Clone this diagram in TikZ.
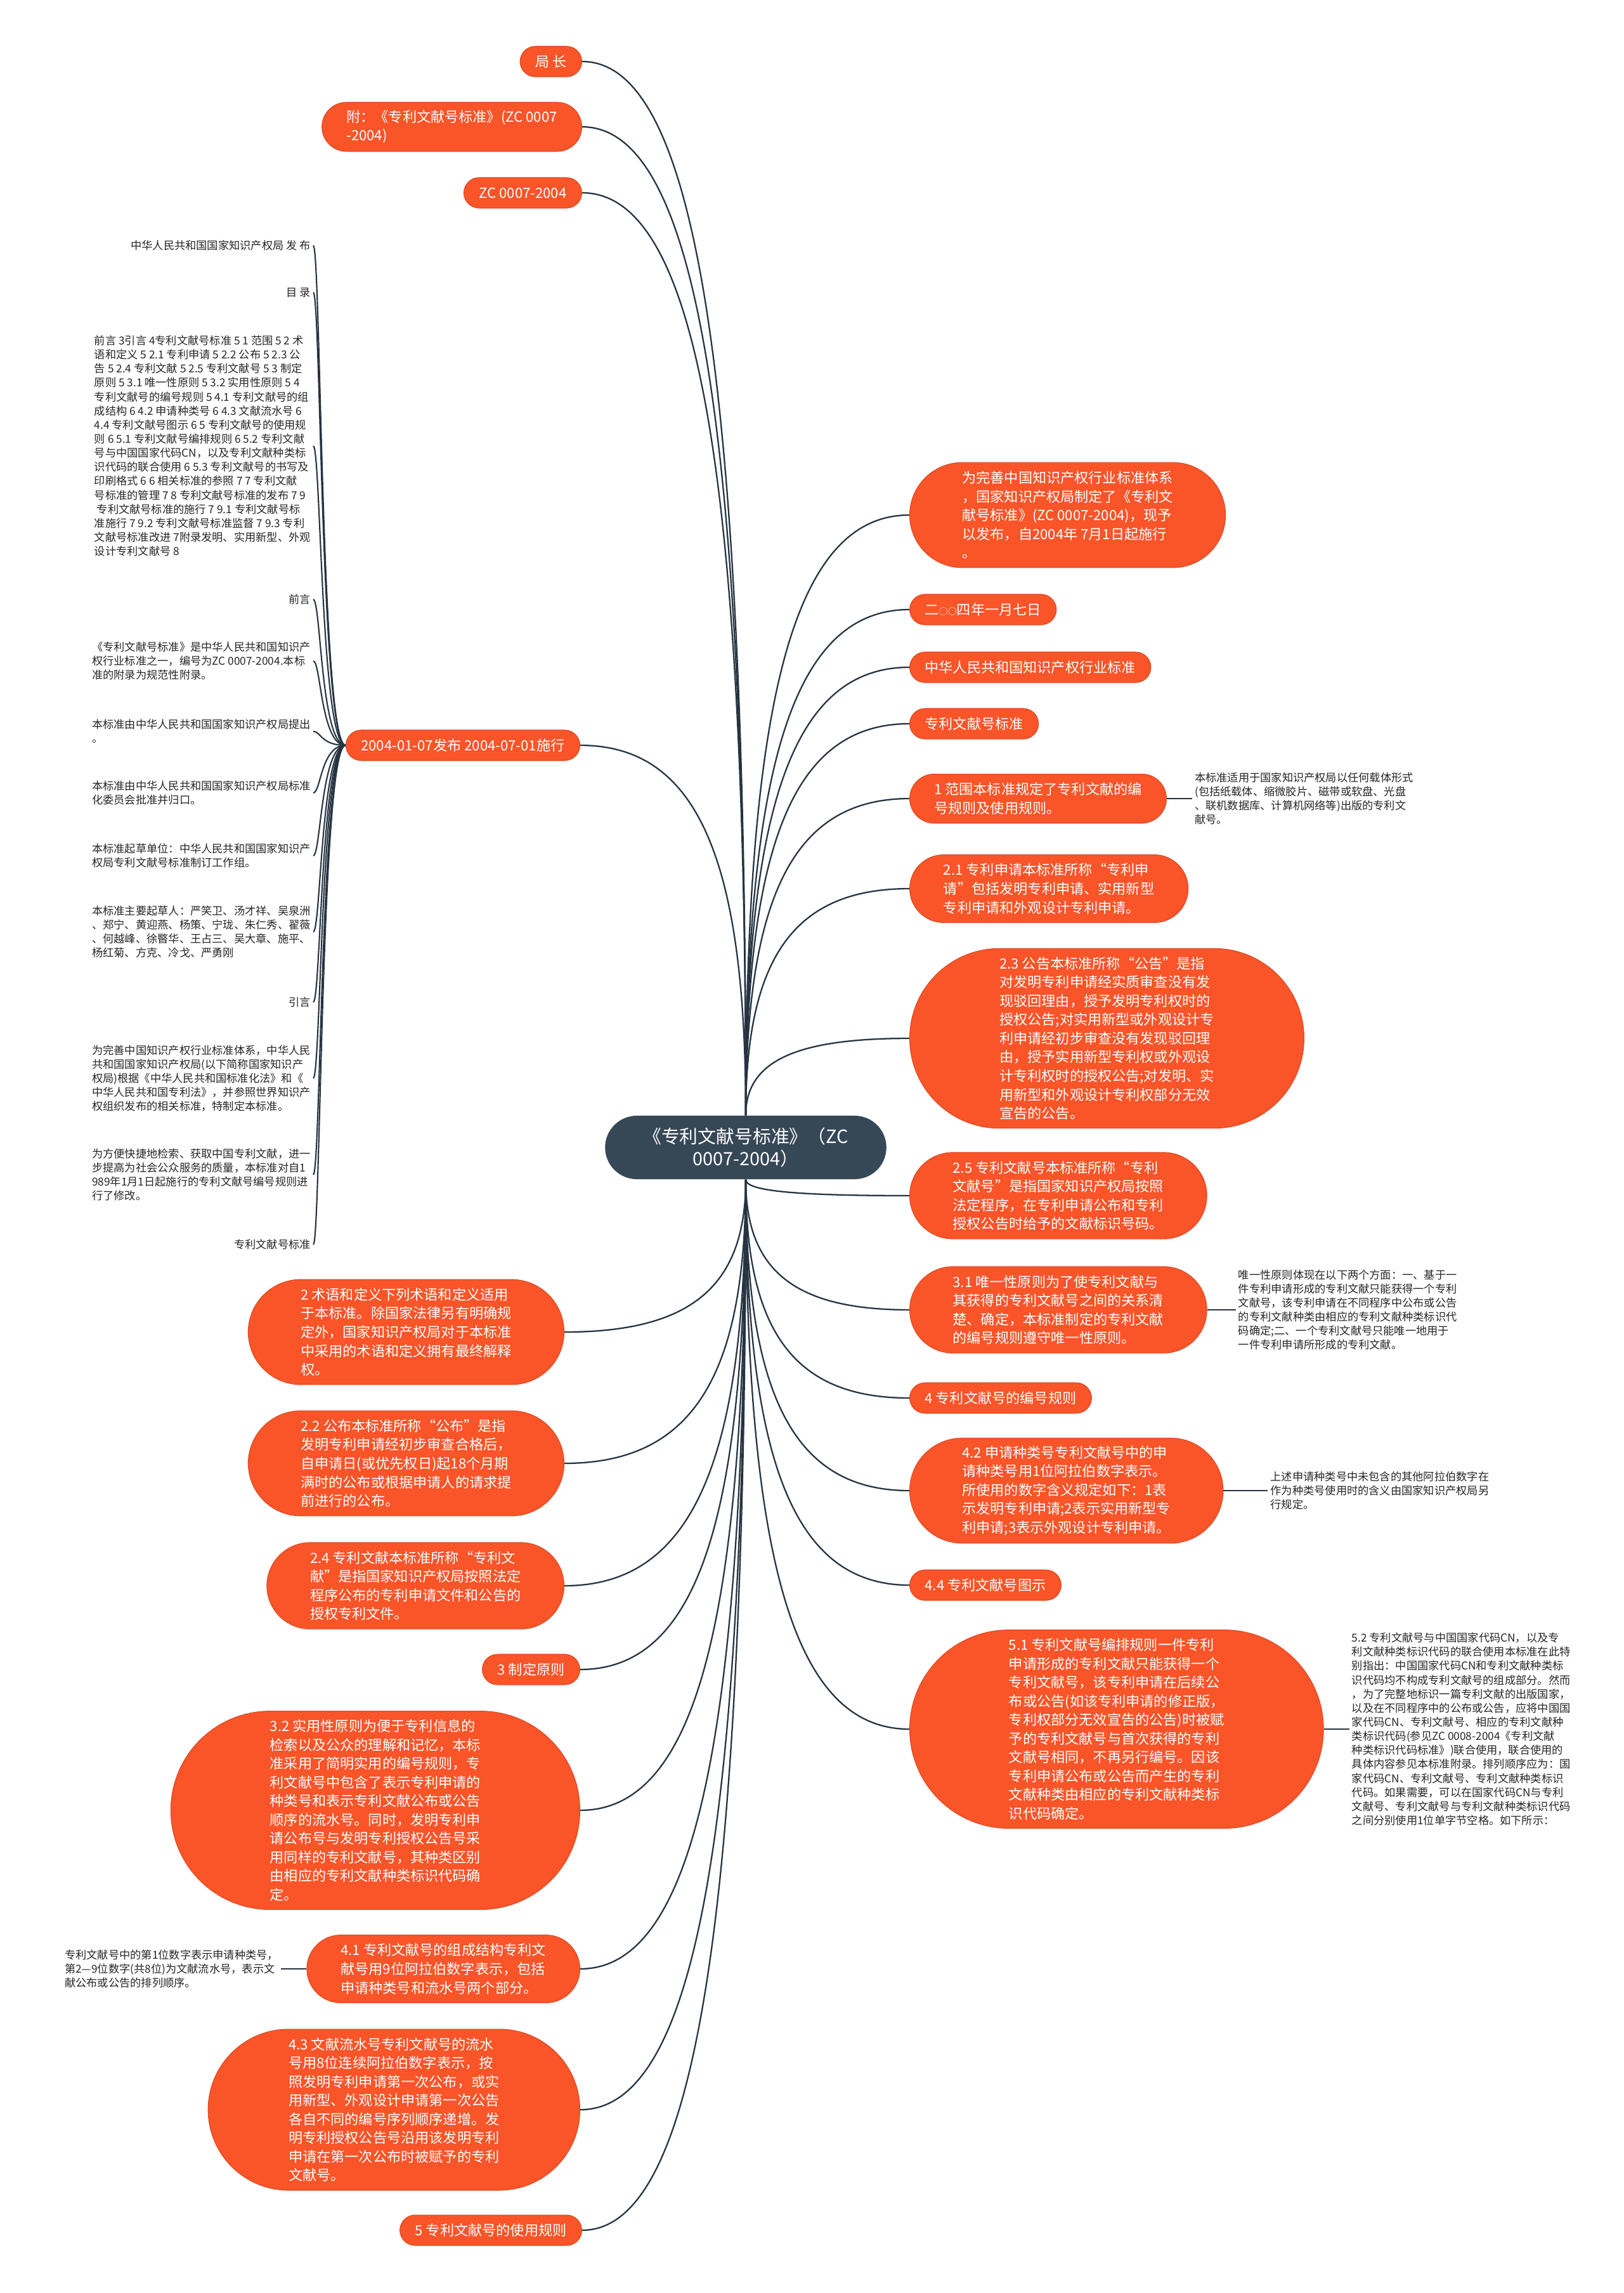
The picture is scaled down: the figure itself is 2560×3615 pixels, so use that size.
\documentclass[tikz,border=0pt]{standalone}
\usepackage{fontspec}
\newfontfamily\cjk{Noto Sans CJK SC}
\usetikzlibrary{positioning,calc}
\definecolor{topicred}{RGB}{250,84,41}
\definecolor{rootslate}{RGB}{54,71,86}
\definecolor{linkdark}{RGB}{38,52,66}

\begin{document}
\begin{tikzpicture}[
  x=0.01cm, y=-0.01cm,
  centre/.style={rectangle, rounded corners=0.5cm, minimum height=1cm, fill=rootslate,
                 text=white, align=center, inner xsep=0.6cm, inner ysep=2pt,
                 font=\cjk\fontsize{8.2}{10}\selectfont},
  % #1 = number of text lines, sets the pill height and its round ends
  topic/.style={rectangle, fill=topicred, draw=topicred!88!black, line width=0.3pt,
                minimum height={0.294cm*#1+0.186cm}, rounded corners={0.147cm*#1+0.093cm},
                inner xsep={0.147cm*#1+0.093cm}, inner ysep=2pt,
                text=white, align=left, font=\cjk\fontsize{6.3}{8.4}\selectfont},
  topic/.default=1,
  note/.style={align=left, inner sep=1pt, text=black!85, font=\cjk\fontsize{4.9}{6.3}\selectfont},
  link/.style={draw=linkdark, line width=0.65pt,
    to path={.. controls ($(\tikztostart)!0.7!(\tikztostart |- \tikztotarget)$)
             and ($(\tikztotarget)!0.7!(\tikztostart |- \tikztotarget)$) .. (\tikztotarget)}},
  brace/.style={draw=linkdark, line width=0.6pt,
    to path={.. controls (trunk) and (trunk |- \tikztotarget) .. (\tikztotarget)}},
  leaf/.style={draw=linkdark, line width=0.8pt}
]
\path[fill=white] (0,0) rectangle (2560,3615);
\useasboundingbox (0,0) rectangle (2560,3615);

\node[centre] (root) at (1176,1809) {《专利文献号标准》（ZC\\0007-2004）};

% left, above the root
\node[topic, anchor=east] (chief) at (918,97) {局 长};
\node[topic=2, anchor=east] (annex) at (918,200) {附：《专利文献号标准》(ZC 0007\\-2004)};
\node[topic, anchor=east] (code) at (918,304) {ZC 0007-2004};
\node[topic, anchor=east] (issue) at (915,1175) {2004-01-07发布 2004-07-01施行};

\coordinate (trunk) at (506,1175);
\node[note, anchor=east] (front1) at (494,387) {中华人民共和国国家知识产权局 发 布};
\node[note, anchor=east] (front2) at (494,461) {目 录};
\node[note, anchor=east] (front3) at (494,703) {前言 3引言 4专利文献号标准 5 1 范围 5 2 术\\
  语和定义 5 2.1 专利申请 5 2.2 公布 5 2.3 公\\
  告 5 2.4 专利文献 5 2.5 专利文献号 5 3 制定\\
  原则 5 3.1 唯一性原则 5 3.2 实用性原则 5 4\\
  专利文献号的编号规则 5 4.1 专利文献号的组\\
  成结构 6 4.2 申请种类号 6 4.3 文献流水号 6\\
  4.4 专利文献号图示 6 5 专利文献号的使用规\\
  则 6 5.1 专利文献号编排规则 6 5.2 专利文献\\
  号与中国国家代码CN，以及专利文献种类标\\
  识代码的联合使用 6 5.3 专利文献号的书写及\\
  印刷格式 6 6 相关标准的参照 7 7 专利文献\\
  号标准的管理 7 8 专利文献号标准的发布 7 9\\
  \ 专利文献号标准的施行 7 9.1 专利文献号标\\
  准施行 7 9.2 专利文献号标准监督 7 9.3 专利\\
  文献号标准改进 7附录发明、实用新型、外观\\
  设计专利文献号 8};
\node[note, anchor=east] (front4) at (494,945) {前言};
\node[note, anchor=east] (front5) at (494,1042) {《专利文献号标准》是中华人民共和国知识产\\
  权行业标准之一，编号为ZC 0007-2004.本标\\准的附录为规范性附录。};
\node[note, anchor=east] (front6) at (494,1153) {本标准由中华人民共和国国家知识产权局提出\\。};
\node[note, anchor=east] (front7) at (494,1250) {本标准由中华人民共和国国家知识产权局标准\\化委员会批准并归口。};
\node[note, anchor=east] (front8) at (494,1349) {本标准起草单位：中华人民共和国国家知识产\\权局专利文献号标准制订工作组。};
\node[note, anchor=east] (front9) at (494,1469) {本标准主要起草人：严笑卫、汤才祥、吴泉洲\\
  、郑宁、黄迎燕、杨策、宁珑、朱仁秀、翟薇\\、何越峰、徐暋华、王占三、吴大章、施平、\\
  杨红菊、方克、冷戈、严勇刚};
\node[note, anchor=east] (front10) at (494,1580) {引言};
\node[note, anchor=east] (front11) at (494,1700) {为完善中国知识产权行业标准体系，中华人民\\
  共和国国家知识产权局(以下简称国家知识产\\权局)根据《中华人民共和国标准化法》和《\\
  中华人民共和国专利法》，并参照世界知识产\\权组织发布的相关标准，特制定本标准。};
\node[note, anchor=east] (front12) at (494,1852) {为方便快捷地检索、获取中国专利文献，进一\\
  步提高为社会公众服务的质量，本标准对自1\\989年1月1日起施行的专利文献号编号规则进\\行了修改。};
\node[note, anchor=east] (front13) at (494,1962) {专利文献号标准};

% right side
\node[topic=5, anchor=west] (intro) at (1434,812) {为完善中国知识产权行业标准体系\\，国家知识产权局制定了《专利文\\
  献号标准》(ZC 0007-2004)，现予\\以发布，自2004年 7月1日起施行\\。};
\node[topic, anchor=west] (date) at (1434,961) {二{\fontsize{4}{4}\selectfont ○○}四年一月七日};
\node[topic, anchor=west] (industry) at (1434,1052) {中华人民共和国知识产权行业标准};
\node[topic, anchor=west] (stdname) at (1434,1141) {专利文献号标准};
\node[topic=2, anchor=west] (scope) at (1434,1259) {1 范围本标准规定了专利文献的编\\号规则及使用规则。};
\node[note, right=0.4cm of scope] (scoped) {本标准适用于国家知识产权局以任何载体形式\\
  (包括纸载体、缩微胶片、磁带或软盘、光盘\\、联机数据库、计算机网络等)出版的专利文\\献号。};
\node[topic=3, anchor=west] (appl) at (1434,1401) {2.1 专利申请本标准所称“专利申\\请”包括发明专利申请、实用新型\\
  专利申请和外观设计专利申请。};
\node[topic=9, anchor=west] (announce) at (1434,1637) {2.3 公告本标准所称“公告”是指\\
  对发明专利申请经实质审查没有发\\现驳回理由，授予发明专利权时的\\
  授权公告;对实用新型或外观设计专\\利申请经初步审查没有发现驳回理\\
  由，授予实用新型专利权或外观设\\计专利权时的授权公告;对发明、实\\
  用新型和外观设计专利权部分无效\\宣告的公告。};
\node[topic=4, anchor=west] (docnum) at (1434,1885) {2.5 专利文献号本标准所称“专利\\
  文献号”是指国家知识产权局按照\\法定程序，在专利申请公布和专利\\授权公告时给予的文献标识号码。};
\node[topic=4, anchor=west] (unique) at (1434,2065) {3.1 唯一性原则为了使专利文献与\\
  其获得的专利文献号之间的关系清\\楚、确定，本标准制定的专利文献\\的编号规则遵守唯一性原则。};
\node[note, right=0.45cm of unique] (uniqued) {唯一性原则体现在以下两个方面：一、基于一\\
  件专利申请形成的专利文献只能获得一个专利\\文献号，该专利申请在不同程序中公布或公告\\
  的专利文献种类由相应的专利文献种类标识代\\码确定;二、一个专利文献号只能唯一地用于\\
  一件专利申请所形成的专利文献。};
\node[topic, anchor=west] (rules) at (1434,2204) {4 专利文献号的编号规则};
\node[topic=5, anchor=west] (kind) at (1434,2350) {4.2 申请种类号专利文献号中的申\\
  请种类号用1位阿拉伯数字表示。\\所使用的数字含义规定如下：1表\\
  示发明专利申请;2表示实用新型专\\利申请;3表示外观设计专利申请。};
\node[note, right=0.7cm of kind] (kindd) {上述申请种类号中未包含的其他阿拉伯数字在\\
  作为种类号使用时的含义由国家知识产权局另\\行规定。};
\node[topic, anchor=west] (diagram) at (1434,2499) {4.4 专利文献号图示};
\node[topic=10, anchor=west] (arrange) at (1434,2726) {5.1 专利文献号编排规则一件专利\\
  申请形成的专利文献只能获得一个\\专利文献号，该专利申请在后续公\\
  布或公告(如该专利申请的修正版，\\专利权部分无效宣告的公告)时被赋\\
  予的专利文献号与首次获得的专利\\文献号相同，不再另行编号。因该\\
  专利申请公布或公告而产生的专利\\文献种类由相应的专利文献种类标\\识代码确定。};
\node[note, right=0.4cm of arrange] (arranged) {5.2 专利文献号与中国国家代码CN，以及专\\
  利文献种类标识代码的联合使用本标准在此特\\别指出：中国国家代码CN和专利文献种类标\\
  识代码均不构成专利文献号的组成部分。然而\\，为了完整地标识一篇专利文献的出版国家，\\
  以及在不同程序中的公布或公告，应将中国国\\家代码CN、专利文献号、相应的专利文献种\\
  类标识代码(参见ZC 0008-2004《专利文献\\种类标识代码标准》)联合使用，联合使用的\\
  具体内容参见本标准附录。排列顺序应为：国\\家代码CN、专利文献号、专利文献种类标识\\
  代码。如果需要，可以在国家代码CN与专利\\文献号、专利文献号与专利文献种类标识代码\\
  之间分别使用1位单字节空格。如下所示：};

% left, below the root
\node[topic=5, anchor=east] (terms) at (890,2100) {2 术语和定义下列术语和定义适用\\
  于本标准。除国家法律另有明确规\\定外，国家知识产权局对于本标准\\中采用的术语和定义拥有最终解释\\权。};
\node[topic=5, anchor=east] (publish) at (890,2307) {2.2 公布本标准所称“公布”是指\\
  发明专利申请经初步审查合格后，\\自申请日(或优先权日)起18个月期\\满时的公布或根据申请人的请求提\\前进行的公布。};
\node[topic=4, anchor=east] (patdoc) at (890,2500) {2.4 专利文献本标准所称“专利文\\
  献”是指国家知识产权局按照法定\\程序公布的专利申请文件和公告的\\授权专利文件。};
\node[topic, anchor=east] (principle) at (915,2632) {3 制定原则};
\node[topic=10, anchor=east] (practical) at (915,2854) {3.2 实用性原则为便于专利信息的\\
  检索以及公众的理解和记忆，本标\\准采用了简明实用的编号规则，专\\
  利文献号中包含了表示专利申请的\\种类号和表示专利文献公布或公告\\
  顺序的流水号。同时，发明专利申\\请公布号与发明专利授权公告号采\\
  用同样的专利文献号，其种类区别\\由相应的专利文献种类标识代码确\\定。};
\node[topic=3, anchor=east] (structure) at (915,3104) {4.1 专利文献号的组成结构专利文\\
  献号用9位阿拉伯数字表示，包括\\申请种类号和流水号两个部分。};
\node[note, left=0.4cm of structure] (structured) {专利文献号中的第1位数字表示申请种类号，\\
  第2—9位数字(共8位)为文献流水号，表示文\\献公布或公告的排列顺序。};
\node[topic=8, anchor=east] (serial) at (915,3326) {4.3 文献流水号专利文献号的流水\\
  号用8位连续阿拉伯数字表示，按\\照发明专利申请第一次公布，或实\\
  用新型、外观设计申请第一次公告\\各自不同的编号序列顺序递增。发\\
  明专利授权公告号沿用该发明专利\\申请在第一次公布时被赋予的专利\\文献号。};
\node[topic, anchor=east] (usage) at (918,3516) {5 专利文献号的使用规则};

% connectors
\foreach \t in {chief,annex,code,issue}
  \draw[link] (root.north) to (\t.east);
\foreach \t in {intro,date,industry,stdname,scope,appl,announce}
  \draw[link] (root.north) to (\t.west);
\foreach \t in {docnum,unique,rules,kind,diagram,arrange}
  \draw[link] (root.south) to (\t.west);
\foreach \t in {terms,publish,patdoc,principle,practical,structure,serial,usage}
  \draw[link] (root.south) to (\t.east);
\foreach \i in {1,...,13}
  \draw[brace] (issue.west) to (front\i.east);
\draw[leaf] (scope.east) -- (scoped.west);
\draw[leaf] (unique.east) -- (uniqued.west);
\draw[leaf] (kind.east) -- (kindd.west);
\draw[leaf] (arrange.east) -- (arranged.west);
\draw[leaf] (structure.west) -- (structured.east);
\end{tikzpicture}
\end{document}
